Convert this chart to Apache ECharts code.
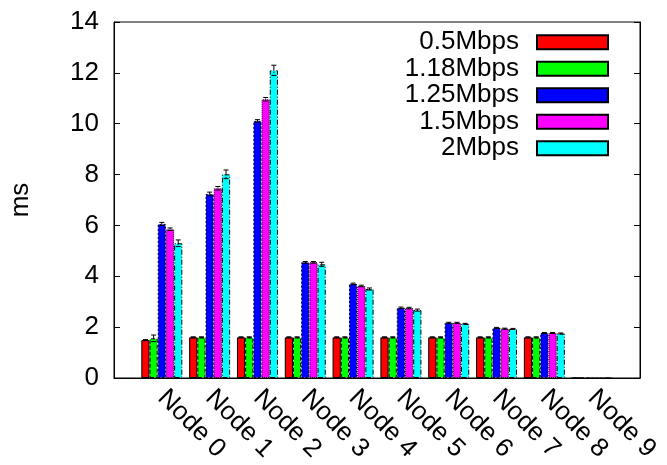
<!DOCTYPE html>
<html><head><meta charset="utf-8">
<script src="https://cdn.jsdelivr.net/npm/echarts@6/dist/echarts.min.js"></script>
<style>html,body{margin:0;padding:0;background:#fff}#c{width:667px;height:465px}</style>
</head><body><div id="c"></div>
<script>
const nodes = ['Node 0','Node 1','Node 2','Node 3','Node 4','Node 5','Node 6','Node 7','Node 8','Node 9'];
const seriesNames = ['0.5Mbps','1.18Mbps','1.25Mbps','1.5Mbps','2Mbps'];
const v05  = [1.49, 1.60, 1.60, 1.60, 1.60, 1.60, 1.60, 1.60, 1.60, 0];
const v118 = [1.56, 1.60, 1.60, 1.60, 1.60, 1.60, 1.60, 1.60, 1.60, 0];
const v125 = [6.06, 7.24, 10.11, 4.55, 3.70, 2.76, 2.17, 1.97, 1.77, 0];
const v15  = [5.85, 7.46, 10.96, 4.55, 3.62, 2.75, 2.17, 1.94, 1.77, 0];
const v2   = [5.30, 8.01, 12.10, 4.47, 3.50, 2.67, 2.13, 1.93, 1.75, 0];
const e05  = [0.02, 0.02, 0.02, 0.02, 0.02, 0.02, 0.02, 0.02, 0.02, 0];
const e118 = [0.13, 0.02, 0.02, 0.02, 0.02, 0.02, 0.02, 0.02, 0.02, 0];
const e125 = [0.06, 0.07, 0.05, 0.03, 0.03, 0.03, 0.02, 0.02, 0.02, 0];
const e15  = [0.05, 0.07, 0.07, 0.03, 0.03, 0.03, 0.02, 0.02, 0.02, 0];
const e2   = [0.13, 0.17, 0.20, 0.08, 0.04, 0.04, 0.02, 0.02, 0.02, 0];
const yTicks = [0, 2, 4, 6, 8, 10, 12, 14];

const values = [v05, v118, v125, v15, v2];
const errors = [e05, e118, e125, e15, e2];
const colors = ['#ff0000', '#00ff00', '#0000ff', '#ff00ff', '#00ffff'];
const borderTypes = ['solid', [4, 2], [2, 2], [1, 1], [5, 2, 1, 2]];
const BW = 8.2;
const FONT = 'Liberation Sans';
const FS = 26;

const cats = [''].concat(nodes, ['']);
const pad = a => [null].concat(a, [null]);

const chart = echarts.init(document.getElementById('c'), null, {renderer: 'canvas'});

const barSeries = seriesNames.map((n, i) => ({
  name: n, type: 'bar', data: pad(values[i]),
  barWidth: BW, barGap: '0%',
  itemStyle: {color: colors[i], borderColor: '#000', borderWidth: 1, borderType: borderTypes[i]},
  emphasis: {disabled: true}, animation: false
}));

const errData = [];
values.forEach((arr, si) => arr.forEach((v, k) => {
  if (errors[si][k] > 0) errData.push([k + 1, v, errors[si][k], si]);
}));

const errSeries = {
  type: 'custom', name: 'err', data: errData, z: 5, animation: false,
  renderItem: function (params, api) {
    const c = api.value(0), v = api.value(1), e = api.value(2), si = api.value(3);
    const off = (si - 2) * BW;
    const top = api.coord([c, v + e]);
    const bot = api.coord([c, v - e]);
    const x = top[0] + off;
    const hw = 2.5;
    const st = {stroke: '#000', lineWidth: 1, lineDash: si === 0 ? null : borderTypes[si]};
    return {type: 'group', children: [
      {type: 'line', shape: {x1: x, y1: top[1], x2: x, y2: bot[1]}, style: st},
      {type: 'line', shape: {x1: x - hw, y1: top[1], x2: x + hw, y2: top[1]}, style: {stroke: '#000', lineWidth: 1}},
      {type: 'line', shape: {x1: x - hw, y1: bot[1], x2: x + hw, y2: bot[1]}, style: {stroke: '#000', lineWidth: 1}}
    ]};
  }
};

chart.setOption({
  backgroundColor: '#fff',
  animation: false,
  textStyle: {fontFamily: FONT},
  grid: {left: 113, right: 27, top: 22, bottom: 87, show: true, borderColor: '#000', borderWidth: 1, backgroundColor: 'transparent'},
  legend: {
    data: seriesNames, orient: 'vertical', align: 'right',
    right: 58, top: 29, padding: 0, itemWidth: 71, itemHeight: 14, itemGap: 0,
    icon: 'rect', selectedMode: false,
    textStyle: {fontFamily: FONT, fontSize: FS, color: '#000', lineHeight: 26.5, padding: [0, 13, 0, 0]}
  },
  xAxis: {
    type: 'category', data: cats, boundaryGap: false,
    axisLine: {lineStyle: {color: '#000'}}, axisTick: {show: false},
    axisLabel: {interval: 0, rotate: -45, margin: 16, fontFamily: FONT, fontSize: FS, color: '#000'},
    splitLine: {show: false}
  },
  yAxis: [{
    type: 'value', min: 0, max: 14, interval: 2,
    name: 'ms', nameLocation: 'middle', nameGap: 80, nameRotate: 90,
    nameTextStyle: {fontFamily: FONT, fontSize: FS, color: '#000'},
    axisLine: {show: true, lineStyle: {color: '#000'}},
    axisTick: {show: true, inside: true, length: 6, lineStyle: {color: '#000'}},
    axisLabel: {margin: 15, fontFamily: FONT, fontSize: FS, color: '#000',
      formatter: v => yTicks.indexOf(v) >= 0 ? String(v) : ''},
    splitLine: {show: false}
  }, {
    type: 'value', min: 0, max: 14, interval: 2, position: 'right',
    axisLine: {show: true, lineStyle: {color: '#000'}},
    axisTick: {show: true, inside: true, length: 6, lineStyle: {color: '#000'}},
    axisLabel: {show: false}, splitLine: {show: false}
  }],
  series: barSeries.concat([errSeries])
});
</script></body></html>
